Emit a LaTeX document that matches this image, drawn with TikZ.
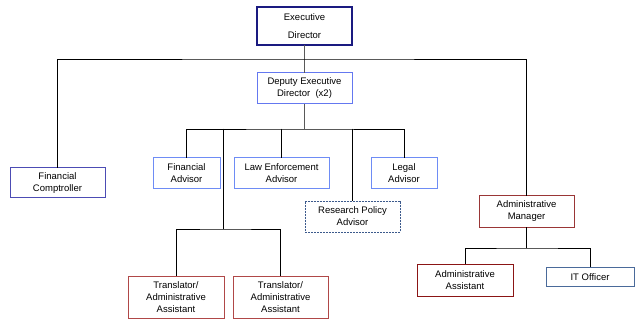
\documentclass[tikz,border=0pt]{standalone}
\usepackage{fontspec}
\setmainfont{Liberation Sans}
\usepackage{tikz}
\definecolor{execblue}{HTML}{1A1A80}
\definecolor{deputyblue}{HTML}{6478F0}
\definecolor{advblue}{HTML}{6E8CF5}
\definecolor{compblue}{HTML}{4C4CB4}
\definecolor{policyblue}{HTML}{3C5A8C}
\definecolor{mgrred}{HTML}{9A3636}
\definecolor{asstred}{HTML}{8B1515}
\definecolor{transred}{HTML}{B04848}
\definecolor{itblue}{HTML}{4A6A9A}
\begin{document}
\begin{tikzpicture}[line cap=rect,line join=miter,x=1pt,y=-1pt,
  post/.style={draw,fill=white,align=center,inner sep=0pt,font=\fontsize{9.5}{12}\selectfont,line width=1pt},
  link/.style={draw=black,line width=0.6pt},
  stem/.style={draw=black!65,line width=1pt}]
\useasboundingbox (0,0) rectangle (636,320);
% top of the chart
\node[post,draw=execblue,line width=1.7pt,minimum width=95pt,minimum height=38pt] (exec) at (304.5,26) {Executive\\[6pt]Director};
\node[post,draw=deputyblue,minimum width=95pt,minimum height=31pt] (deputy) at (304.5,88.5) {Deputy Executive\\Director~ (x2)};
% first row
\node[post,draw=compblue,minimum width=95pt,minimum height=30pt] (fincomp) at (57.5,183) {Financial\\Comptroller};
\node[post,draw=advblue,minimum width=67pt,minimum height=31pt] (finadv) at (186.5,173.5) {Financial\\Advisor};
\node[post,draw=advblue,minimum width=95pt,minimum height=31pt] (lawadv) at (281.5,173.5) {Law Enforcement\\Advisor};
\node[post,draw=advblue,minimum width=66pt,minimum height=31pt] (legal) at (404,173.5) {Legal\\Advisor};
\node[post,draw=policyblue,dash pattern=on 1.6pt off 1.4pt,line width=0.9pt,minimum width=95pt,minimum height=31pt] (research) at (352.5,216.5) {Research Policy\\Advisor};
\node[post,draw=mgrred,minimum width=95pt,minimum height=31pt] (adminmgr) at (526.5,211.5) {Administrative\\Manager};
% bottom row
\node[post,draw=transred,minimum width=96pt,minimum height=42pt] (trans1) at (176,297) {Translator/\\Administrative\\Assistant};
\node[post,draw=transred,minimum width=95pt,minimum height=42pt] (trans2) at (280.5,297) {Translator/\\Administrative\\Assistant};
\node[post,draw=asstred,minimum width=96pt,minimum height=32pt] (adminasst) at (465,280) {Administrative\\Assistant};
\node[post,draw=itblue,minimum width=88pt,minimum height=19pt] (itoff) at (590,277) {IT Officer};
% bars
\coordinate (topbar) at (304.5,59);
\coordinate (advbar) at (304.5,129);
\coordinate (transtop) at (223,129);
\coordinate (transbar) at (223,229);
\coordinate (asstbar) at (526.5,248);
% connectors
\draw[stem] (exec) -- (deputy);
\draw[stem] (deputy) -- (advbar);
\draw[link] (fincomp.north) |- (topbar) -| (adminmgr.north);
\draw[link] (finadv.north) |- (advbar) -| (legal.north);
\draw[link] (lawadv.north) -- (lawadv.north |- advbar);
\draw[link] (research.north) -- (research.north |- advbar);
\draw[link] (transtop) -- (transbar);
\draw[link] (trans1.north) |- (transbar) -| (trans2.north);
\draw[link] (adminmgr) -- (asstbar);
\draw[link] (adminasst.north) |- (asstbar) -| (itoff.north);
\end{tikzpicture}
\end{document}
